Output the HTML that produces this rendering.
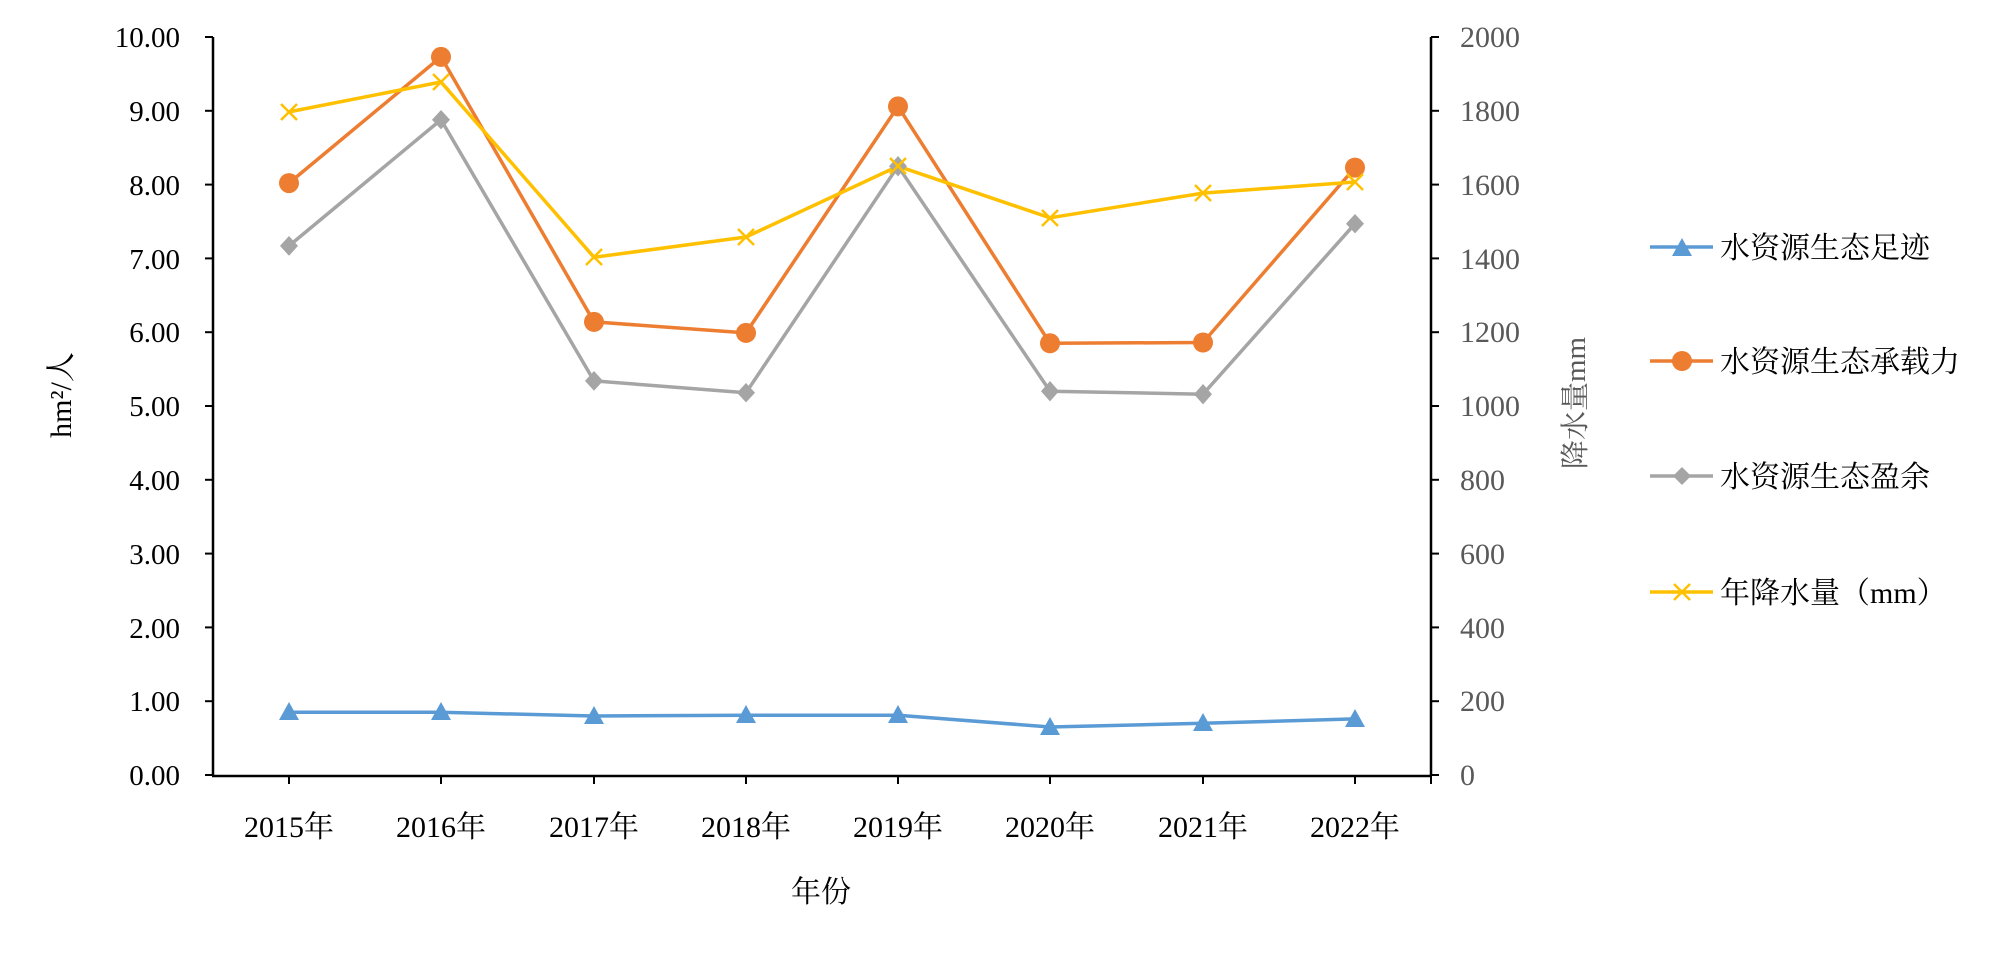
<!DOCTYPE html>
<html><head><meta charset="utf-8"><style>
html,body{margin:0;padding:0;background:#fff;}
svg{display:block;}
</style></head><body>
<svg width="2000" height="957" viewBox="0 0 2000 957" xmlns="http://www.w3.org/2000/svg">
<g stroke="#000" stroke-width="2.5" fill="none">
<line x1="213" y1="37" x2="213" y2="776"/>
<line x1="212" y1="776" x2="1432" y2="776"/>
<line x1="1431" y1="37" x2="1431" y2="776"/>
</g>
<g stroke="#000" stroke-width="2">
<line x1="205" y1="37" x2="213" y2="37"/><line x1="205" y1="110.8" x2="213" y2="110.8"/><line x1="205" y1="184.6" x2="213" y2="184.6"/><line x1="205" y1="258.4" x2="213" y2="258.4"/><line x1="205" y1="332.2" x2="213" y2="332.2"/><line x1="205" y1="406" x2="213" y2="406"/><line x1="205" y1="479.8" x2="213" y2="479.8"/><line x1="205" y1="553.6" x2="213" y2="553.6"/><line x1="205" y1="627.4" x2="213" y2="627.4"/><line x1="205" y1="701.2" x2="213" y2="701.2"/><line x1="205" y1="775" x2="213" y2="775"/>
<line x1="1431" y1="37" x2="1439" y2="37"/><line x1="1431" y1="110.8" x2="1439" y2="110.8"/><line x1="1431" y1="184.6" x2="1439" y2="184.6"/><line x1="1431" y1="258.4" x2="1439" y2="258.4"/><line x1="1431" y1="332.2" x2="1439" y2="332.2"/><line x1="1431" y1="406" x2="1439" y2="406"/><line x1="1431" y1="479.8" x2="1439" y2="479.8"/><line x1="1431" y1="553.6" x2="1439" y2="553.6"/><line x1="1431" y1="627.4" x2="1439" y2="627.4"/><line x1="1431" y1="701.2" x2="1439" y2="701.2"/><line x1="1431" y1="775" x2="1439" y2="775"/>
<line x1="1431" y1="776" x2="1431" y2="784"/>
<line x1="289" y1="776" x2="289" y2="784"/><line x1="441" y1="776" x2="441" y2="784"/><line x1="594" y1="776" x2="594" y2="784"/><line x1="746" y1="776" x2="746" y2="784"/><line x1="898" y1="776" x2="898" y2="784"/><line x1="1050" y1="776" x2="1050" y2="784"/><line x1="1203" y1="776" x2="1203" y2="784"/><line x1="1355" y1="776" x2="1355" y2="784"/>
</g>
<g font-family="Liberation Serif, 'Noto Serif CJK SC', serif" font-size="29" fill="#000" text-anchor="end">
<text x="180" y="47">10.00</text><text x="180" y="121">9.00</text><text x="180" y="195">8.00</text><text x="180" y="269">7.00</text><text x="180" y="342">6.00</text><text x="180" y="416">5.00</text><text x="180" y="490">4.00</text><text x="180" y="564">3.00</text><text x="180" y="638">2.00</text><text x="180" y="711">1.00</text><text x="180" y="785">0.00</text>
</g>
<g font-family="Liberation Serif, serif" font-size="30" fill="#595959" text-anchor="start">
<text x="1460" y="47">2000</text><text x="1460" y="121">1800</text><text x="1460" y="195">1600</text><text x="1460" y="269">1400</text><text x="1460" y="342">1200</text><text x="1460" y="416">1000</text><text x="1460" y="490">800</text><text x="1460" y="564">600</text><text x="1460" y="638">400</text><text x="1460" y="711">200</text><text x="1460" y="785">0</text>
</g>
<g font-family="Liberation Serif, 'Noto Serif CJK SC', serif" font-size="30" fill="#000" text-anchor="middle">
<text x="289" y="837">2015年</text><text x="441" y="837">2016年</text><text x="594" y="837">2017年</text><text x="746" y="837">2018年</text><text x="898" y="837">2019年</text><text x="1050" y="837">2020年</text><text x="1203" y="837">2021年</text><text x="1355" y="837">2022年</text>
<text x="821" y="902">年份</text>
<text transform="translate(71,395) rotate(-90)">hm²/人</text>
</g>
<text transform="translate(1585,403) rotate(-90)" font-family="Liberation Serif, 'Noto Serif CJK SC', serif" font-size="29" fill="#595959" text-anchor="middle">降水量mm</text>
<g fill="none" stroke-width="3.5" stroke-linejoin="round">
<polyline stroke="#5B9BD5" points="289,712.3 441,712.3 594,716 746,715.2 898,715.2 1050,727 1203,723.3 1355,718.9"/>
<polyline stroke="#A5A5A5" points="289,245.9 441,119.7 594,380.9 746,392.7 898,166.2 1050,391.2 1203,394.2 1355,223.7"/>
<polyline stroke="#ED7D31" points="289,183.1 441,56.9 594,321.9 746,332.9 898,106.4 1050,343.3 1203,342.5 1355,167.6"/>
<polyline stroke="#FFC000" points="289,111.9 441,82 594,257.3 746,237 898,166.2 1050,217.8 1203,193.1 1355,182"/>
</g>
<g fill="#5B9BD5">
<path d="M289,702 l10,18 h-20z"/><path d="M441,702 l10,18 h-20z"/><path d="M594,706 l10,18 h-20z"/><path d="M746,705 l10,18 h-20z"/><path d="M898,705 l10,18 h-20z"/><path d="M1050,717 l10,18 h-20z"/><path d="M1203,713 l10,18 h-20z"/><path d="M1355,709 l10,18 h-20z"/>
</g>
<g fill="#A5A5A5">
<path d="M289,236 l9,9.9 -9,9.9 -9,-9.9z"/><path d="M441,110 l9,9.7 -9,9.7 -9,-9.7z"/><path d="M594,371 l9,9.9 -9,9.9 -9,-9.9z"/><path d="M746,383 l9,9.7 -9,9.7 -9,-9.7z"/><path d="M898,156 l9,10.2 -9,10.2 -9,-10.2z"/><path d="M1050,381 l9,10.2 -9,10.2 -9,-10.2z"/><path d="M1203,384 l9,10.2 -9,10.2 -9,-10.2z"/><path d="M1355,214 l9,9.7 -9,9.7 -9,-9.7z"/>
</g>
<g fill="#ED7D31">
<circle cx="289" cy="183.1" r="10"/><circle cx="441" cy="56.9" r="10"/><circle cx="594" cy="321.9" r="10"/><circle cx="746" cy="332.9" r="10"/><circle cx="898" cy="106.4" r="10"/><circle cx="1050" cy="343.3" r="10"/><circle cx="1203" cy="342.5" r="10"/><circle cx="1355" cy="167.6" r="10"/>
</g>
<g stroke="#FFC000" stroke-width="2.5">
<path d="M281,104 l16,16 M297,104 l-16,16"/><path d="M433,74 l16,16 M449,74 l-16,16"/><path d="M586,249 l16,16 M602,249 l-16,16"/><path d="M738,229 l16,16 M754,229 l-16,16"/><path d="M890,158 l16,16 M906,158 l-16,16"/><path d="M1042,210 l16,16 M1058,210 l-16,16"/><path d="M1195,185 l16,16 M1211,185 l-16,16"/><path d="M1347,174 l16,16 M1363,174 l-16,16"/>
</g>
<g stroke-width="3.5">
<line x1="1650" y1="247" x2="1713" y2="247" stroke="#5B9BD5"/>
<line x1="1650" y1="361" x2="1713" y2="361" stroke="#ED7D31"/>
<line x1="1650" y1="476" x2="1713" y2="476" stroke="#A5A5A5"/>
<line x1="1650" y1="592" x2="1713" y2="592" stroke="#FFC000"/>
</g>
<path d="M1682,238 l10,18 h-20z" fill="#5B9BD5"/>
<circle cx="1682" cy="361" r="10" fill="#ED7D31"/>
<path d="M1682,467 l9,9 -9,9 -9,-9z" fill="#A5A5A5"/>
<path d="M1674,584 l16,16 M1690,584 l-16,16" stroke="#FFC000" stroke-width="2.5"/>
<g font-family="Liberation Serif, 'Noto Serif CJK SC', serif" font-size="30" fill="#000">
<text x="1720" y="258">水资源生态足迹</text>
<text x="1720" y="372">水资源生态承载力</text>
<text x="1720" y="487">水资源生态盈余</text>
<text x="1720" y="603">年降水量（mm）</text>
</g>
</svg>
</body></html>
